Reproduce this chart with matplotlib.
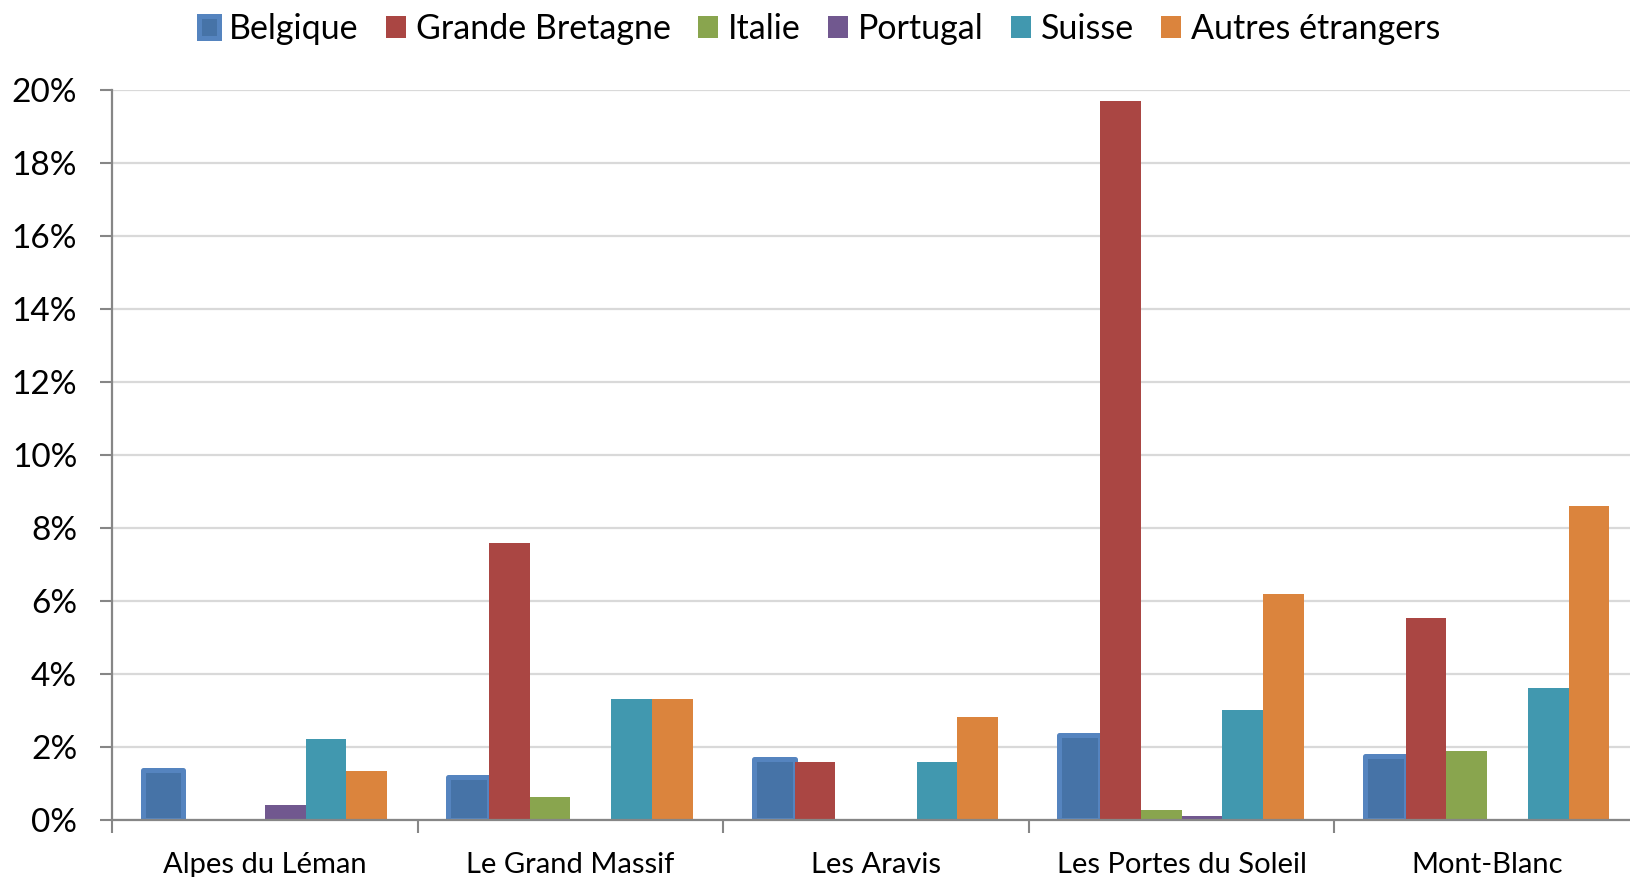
import matplotlib
matplotlib.use("Agg")
import matplotlib.pyplot as plt
import numpy as np

# Stations and share of foreign visitors by nationality (%)
stations = ["Alpes du Léman", "Le Grand Massif", "Les Aravis",
            "Les Portes du Soleil", "Mont-Blanc"]
belgique = [1.38, 1.17, 1.66, 2.32, 1.75]
grande_bretagne = [0.0, 7.58, 1.60, 19.70, 5.54]
italie = [0.0, 0.64, 0.0, 0.28, 1.90]
portugal = [0.42, 0.0, 0.0, 0.12, 0.0]
suisse = [2.22, 3.32, 1.60, 3.01, 3.62]
autres = [1.33, 3.32, 2.81, 6.19, 8.61]

series_names = ["Belgique", "Grande Bretagne", "Italie", "Portugal",
                "Suisse", "Autres étrangers"]
y_ticks = [0, 2, 4, 6, 8, 10, 12, 14, 16, 18, 20]

colors = ["#4673A7", "#AA4643", "#89A54E", "#71588F", "#4198AF", "#DB843D"]

plt.rcParams["font.family"] = ["Lato", "DejaVu Sans"]

fig = plt.figure(figsize=(16.3, 8.77), dpi=100)
ax = fig.add_axes([112 / 1630, 57 / 877, 1528 / 1630, 730 / 877])

data = [belgique, grande_bretagne, italie, portugal, suisse, autres]
n = len(data)
bar_w = 1 / (n + 1.5)
x = np.arange(len(stations))

for i, (name, vals, col) in enumerate(zip(series_names, data, colors)):
    offs = (i - (n - 1) / 2) * bar_w
    if i == 0:
        ax.bar(x + offs, vals, bar_w, color=col, edgecolor="#5584BF",
               linewidth=3.6, joinstyle="round", label=name, zorder=2)
    else:
        ax.bar(x + offs, vals, bar_w, color=col, edgecolor="none",
               linewidth=0, label=name, zorder=3)

ax.set_xlim(-0.5, len(stations) - 0.5)
ax.set_ylim(0, 20)

ax.set_yticks(y_ticks)
ax.set_yticklabels([f"{t}%" for t in y_ticks])
ax.yaxis.grid(True, color="#D9D9D9", linewidth=1.6, zorder=0)
ax.set_axisbelow(True)

# Category labels centred, ticks at category boundaries
ax.set_xticks(np.arange(-0.5, len(stations) + 0.5, 1.0))
ax.set_xticklabels([])
ax.set_xticks(x, minor=True)
ax.set_xticklabels(stations, minor=True)
ax.tick_params(axis="x", which="minor", length=0, pad=23, labelsize=21)
ax.tick_params(axis="x", which="major", length=9, width=1.5,
               color="#868686", direction="out")
ax.tick_params(axis="y", length=9, width=1.5, color="#868686",
               direction="out", pad=16, labelsize=24)

for side in ["top", "right"]:
    ax.spines[side].set_visible(False)
for side in ["left", "bottom"]:
    ax.spines[side].set_color("#868686")
    ax.spines[side].set_linewidth(1.6)
    ax.spines[side].set_zorder(4)

leg = fig.legend(loc="center", bbox_to_anchor=(0.503, 0.967), ncol=6,
                 frameon=False, fontsize=24.5, handlelength=0.58,
                 handleheight=0.58, handletextpad=0.3, columnspacing=0.8)

fig.savefig("out.png", dpi=100)
